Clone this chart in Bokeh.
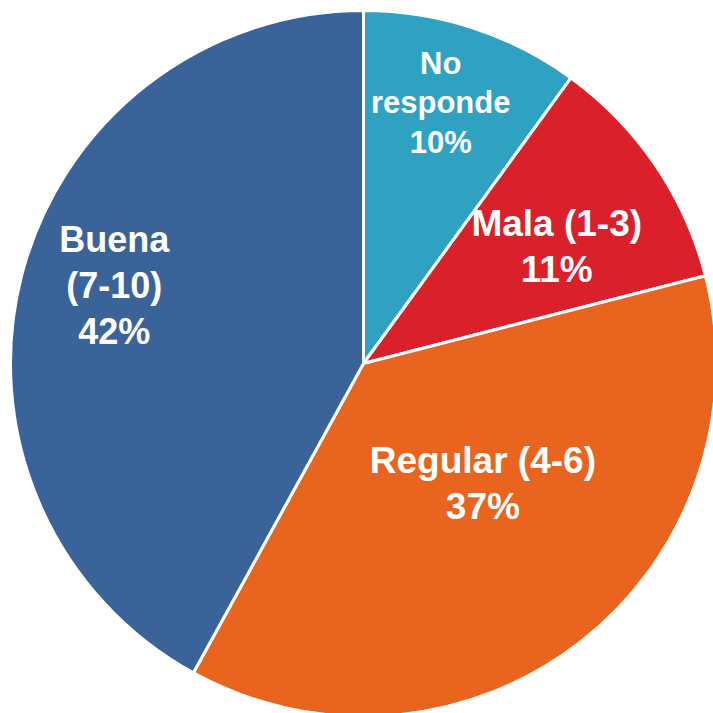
import math
from bokeh.plotting import figure
from bokeh.models import ColumnDataSource, Range1d
from bokeh.core.properties import value
from bokeh.embed import file_html
from bokeh.resources import INLINE

# data
categories = ["No responde", "Mala (1-3)", "Regular (4-6)", "Buena (7-10)"]
shares = [10, 11, 37, 42]
label_texts = ["No\nresponde\n10%", "Mala (1-3)\n11%", "Regular (4-6)\n37%", "Buena\n(7-10)\n42%"]
colors = ["#2EA2C0", "#DA202B", "#E9641E", "#3A6399"]

# style / layout
W = H = 713
CX, CY, R = 363, 350, 353
label_rfrac = [0.77, 0.64, 0.48, 0.74]
label_dang = [-1.5, 3.0, -7.0, 3.0]  # degrees tweak
font_sizes = ["31px", "37px", "37px", "36px"]

total = sum(shares)
starts, ends, lx, ly = [], [], [], []
acc = 0.0
for s, rf, da in zip(shares, label_rfrac, label_dang):
    a0 = math.pi / 2 - 2 * math.pi * acc / total
    a1 = math.pi / 2 - 2 * math.pi * (acc + s) / total
    starts.append(a0)
    ends.append(a1)
    mid = (a0 + a1) / 2 - math.radians(da)
    lx.append(CX + rf * R * math.cos(mid))
    ly.append(CY + rf * R * math.sin(mid))
    acc += s

src = ColumnDataSource(dict(x=[CX] * 4, y=[CY] * 4, start=starts, end=ends,
                            color=colors, cat=categories))
lsrc = ColumnDataSource(dict(x=lx, y=ly, text=label_texts, fs=font_sizes))

p = figure(width=W, height=H, x_range=Range1d(0, W), y_range=Range1d(0, H),
           output_backend="svg", toolbar_location=None, min_border=0)
p.axis.visible = False
p.grid.visible = False
p.outline_line_color = None
p.background_fill_color = "white"

p.wedge(x="x", y="y", radius=R, start_angle="start", end_angle="end",
        direction="clock", fill_color="color", line_color="white",
        line_width=3, source=src)
p.text(x="x", y="y", text="text", text_font=value("Liberation Sans"),
       text_font_style="bold", text_font_size="fs", text_color="white",
       text_align="center", text_baseline="middle", text_line_height=1.12,
       source=lsrc)

open("out.html", "w").write(file_html(p, INLINE))
